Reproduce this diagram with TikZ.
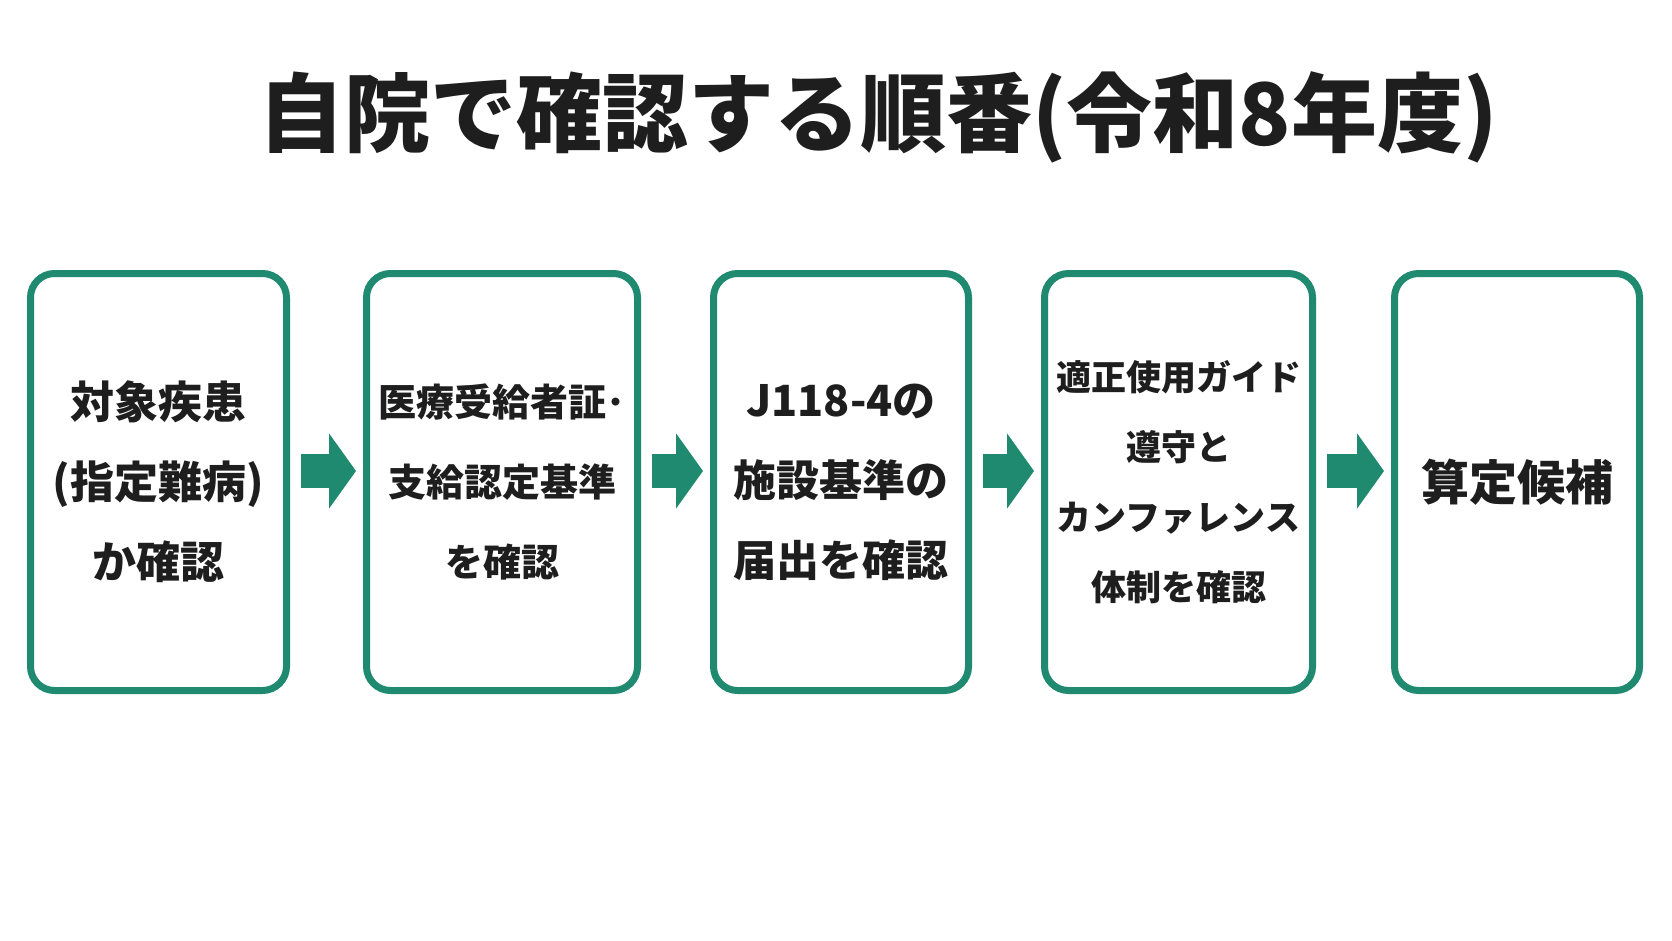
\documentclass[tikz,border=0pt]{standalone}
\usepackage{fontspec}
\setmainfont{Noto Sans CJK JP}
\usetikzlibrary{arrows.meta}
\definecolor{flowgreen}{HTML}{1F8A70}
\definecolor{inkdark}{HTML}{1E1E1E}
\tikzset{
  stepbox/.style={draw=flowgreen, line width=7pt, rounded corners=24pt, fill=white,
    minimum height=417pt, align=center, text=inkdark, inner sep=0pt},
  flow/.style={draw=flowgreen, line width=34pt, -{Triangle[length=27pt,width=74pt]},
    shorten <=11pt, shorten >=7pt},
}
\begin{document}
\begin{tikzpicture}[x=1pt,y=-1pt]
\fill[white] (0,0) rectangle (1672,941);
\useasboundingbox (0,0) rectangle (1672,941);
\node[text=inkdark, font=\fontsize{86}{90}\selectfont\bfseries, inner sep=0pt] (title) at (878,117)
  {自院で確認する順番(令和8年度)};
\node[stepbox, minimum width=256pt, font=\fontsize{44}{80}\selectfont\bfseries] (b1) at (158.5,482)
  {対象疾患\\(指定難病)\\か確認};
\node[stepbox, minimum width=271pt, font=\fontsize{38}{80}\selectfont\bfseries] (b2) at (502,482)
  {医療受給者証･\\支給認定基準\\を確認};
\node[stepbox, minimum width=255pt, font=\fontsize{43}{80}\selectfont\bfseries] (b3) at (841,482)
  {J118-4の\\施設基準の\\届出を確認};
\node[stepbox, minimum width=268pt, font=\fontsize{35}{70}\selectfont\bfseries] (b4) at (1178.5,482)
  {適正使用ガイド\\遵守と\\カンファレンス\\体制を確認};
\node[stepbox, minimum width=245pt, font=\fontsize{48}{80}\selectfont\bfseries] (b5) at (1517,482)
  {算定候補};
\draw[flow] ([yshift=11pt]b1.east) -- ([yshift=11pt]b2.west);
\draw[flow] ([yshift=11pt]b2.east) -- ([yshift=11pt]b3.west);
\draw[flow] ([yshift=11pt]b3.east) -- ([yshift=11pt]b4.west);
\draw[flow] ([yshift=11pt]b4.east) -- ([yshift=11pt]b5.west);
\end{tikzpicture}
\end{document}
